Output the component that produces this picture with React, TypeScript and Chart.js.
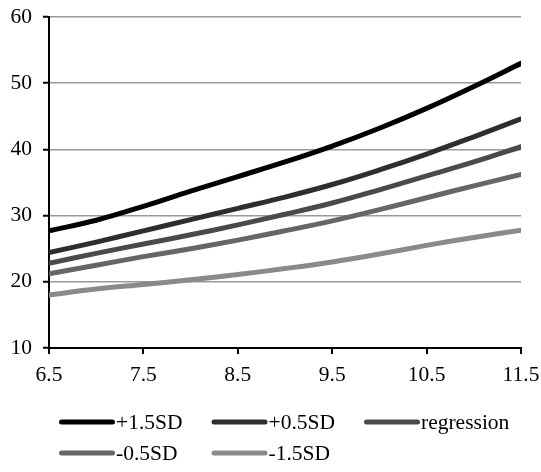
import React, { useEffect, useRef } from "react";
import { Chart, registerables } from "chart.js";

Chart.register(...registerables);

const xValues = [6.5, 7, 7.5, 8, 8.5, 9, 9.5, 10, 10.5, 11, 11.5];
const xTicks = [6.5, 7.5, 8.5, 9.5, 10.5, 11.5];
const yTicks = [10, 20, 30, 40, 50, 60];

const seriesNames = ["+1.5SD", "+0.5SD", "regression", "-0.5SD", "-1.5SD"];
const plus15 = [27.7, 29.3, 31.4, 33.7, 35.9, 38.1, 40.5, 43.2, 46.2, 49.5, 53.0];
const plus05 = [24.4, 26.0, 27.7, 29.4, 31.1, 32.8, 34.7, 36.9, 39.3, 41.9, 44.6];
const regression = [22.8, 24.3, 25.7, 27.1, 28.6, 30.2, 31.9, 33.9, 36.0, 38.1, 40.4];
const minus05 = [21.2, 22.5, 23.8, 25.0, 26.3, 27.7, 29.2, 30.9, 32.7, 34.5, 36.2];
const minus15 = [18.0, 18.9, 19.6, 20.3, 21.1, 22.0, 23.0, 24.2, 25.5, 26.7, 27.8];
const seriesValues = [plus15, plus05, regression, minus05, minus15];
const seriesColors = ["#000000", "#2e2e2e", "#4a4a4a", "#666666", "#8a8a8a"];

const FONT = '"Liberation Serif", "Times New Roman", serif';
const FONT_SIZE = 21.5;

const gridLegend = {
  id: "gridLegend",
  afterDraw(chart: any) {
    const ctx = chart.ctx;
    const area = chart.chartArea;
    const startX = area.left + 10;
    const colW = 152.5;
    const rowsY = [area.bottom + 74, area.bottom + 105];
    chart.data.datasets.forEach((ds: any, i: number) => {
      const col = i % 3;
      const row = Math.floor(i / 3);
      const x = startX + col * colW;
      const y = rowsY[row];
      ctx.save();
      ctx.strokeStyle = ds.borderColor;
      ctx.lineWidth = 5;
      ctx.lineCap = "round";
      ctx.beginPath();
      ctx.moveTo(x + 2.5, y);
      ctx.lineTo(x + 53.5, y);
      ctx.stroke();
      ctx.fillStyle = "#000";
      ctx.font = `${FONT_SIZE}px ${FONT}`;
      ctx.textAlign = "left";
      ctx.textBaseline = "middle";
      ctx.fillText(ds.label, x + 57, y + 1);
      ctx.restore();
    });
  },
};

export default function App() {
  const ref = useRef<HTMLCanvasElement>(null);

  useEffect(() => {
    if (!ref.current) return;
    const chart = new Chart(ref.current, {
      type: "line",
      data: {
        datasets: seriesNames.map((name, i) => ({
          label: name,
          data: xValues.map((x, j) => ({ x, y: seriesValues[i][j] })),
          borderColor: seriesColors[i],
          backgroundColor: seriesColors[i],
          borderWidth: 5,
          borderCapStyle: "round",
          borderJoinStyle: "round",
          pointRadius: 0,
          tension: 0.4,
          fill: false,
        })),
      },
      options: {
        animation: false,
        responsive: false,
        layout: { padding: { left: 0, right: 20, top: 17, bottom: 84 } },
        plugins: {
          legend: { display: false },
          tooltip: { enabled: false },
        },
        scales: {
          x: {
            type: "linear",
            min: 6.5,
            max: 11.5,
            afterBuildTicks: (scale: any) => {
              scale.ticks = xTicks.map((v) => ({ value: v }));
            },
            afterFit: (scale: any) => {
              scale.height = 40;
              scale.paddingLeft = 0;
              scale.paddingRight = 0;
            },
            grid: {
              display: true,
              drawOnChartArea: false,
              drawTicks: true,
              tickLength: 6,
              tickColor: "#000",
              tickWidth: 2,
              lineWidth: 2,
              color: "#000",
            },
            border: { display: true, color: "#000", width: 2 },
            ticks: {
              color: "#000",
              font: { family: FONT, size: FONT_SIZE },
              padding: 8,
              maxRotation: 0,
              autoSkip: false,
              callback: (v: any) => Number(v).toFixed(1),
            },
          },
          y: {
            type: "linear",
            min: 10,
            max: 60,
            afterBuildTicks: (scale: any) => {
              scale.ticks = yTicks.map((v) => ({ value: v }));
            },
            afterFit: (scale: any) => {
              scale.width = 49;
              scale.paddingTop = 0;
              scale.paddingBottom = 0;
            },
            grid: {
              display: true,
              drawTicks: true,
              tickLength: 6,
              tickColor: "#000",
              tickWidth: 2,
              color: "#9a9a9a",
              lineWidth: 1.5,
            },
            border: { display: true, color: "#000", width: 2 },
            ticks: {
              color: "#000",
              font: { family: FONT, size: FONT_SIZE },
              padding: 11,
            },
          },
        },
      },
      plugins: [gridLegend],
    } as any);
    return () => chart.destroy();
  }, []);

  return (
    <div style={{ position: "absolute", left: 0, top: 0, width: 541, height: 472, background: "#fff" }}>
      <canvas ref={ref} width={541} height={472} style={{ display: "block" }} />
    </div>
  );
}
